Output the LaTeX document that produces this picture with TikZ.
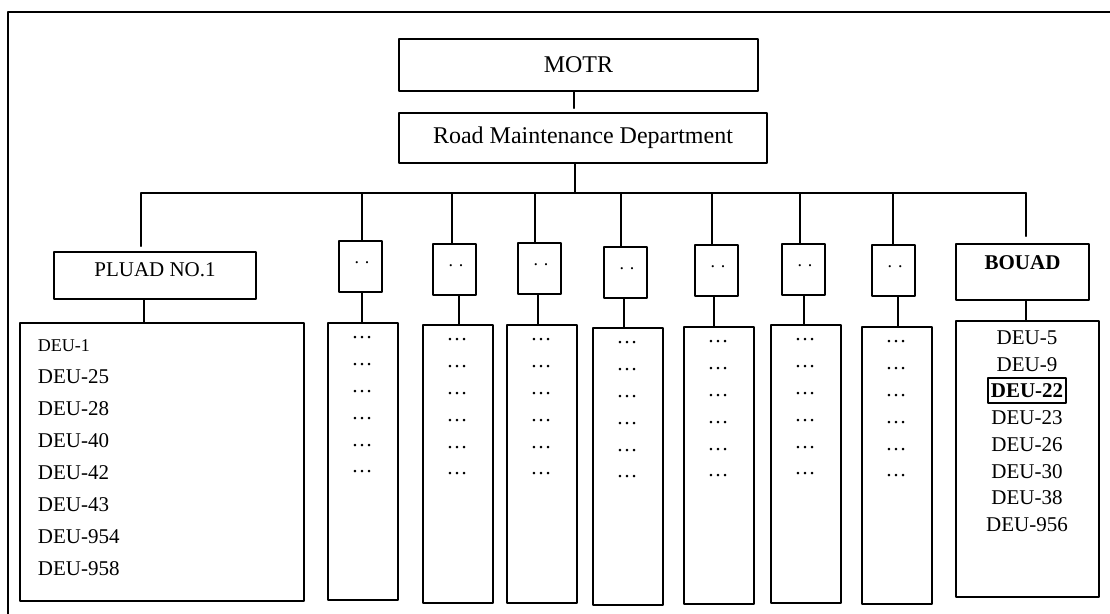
\documentclass[tikz,border=0pt]{standalone}
\usepackage{fontspec}
\setmainfont{Liberation Serif}
\begin{document}
\begin{tikzpicture}[x=0.5pt,y=-0.5pt,line cap=round,line join=round,
		box/.style={draw,line width=0.8pt,inner sep=0pt},
		wire/.style={line width=0.8pt},
		big/.style={font=\fontsize{12}{14}\selectfont},
		txt/.style={inner sep=0pt,font=\fontsize{10.5}{12}\selectfont},
		dotty/.style={inner sep=0pt,font=\fontsize{9}{10}\selectfont}]
		\useasboundingbox (0,0) rectangle (1110,614);
		\draw[line width=0.85pt] (1110,12) -| (8,614);
		\node[box,big,minimum width=179.5pt,minimum height=26pt] (motr) at (578.5,65) {MOTR};
		\node[box,big,minimum width=184pt,minimum height=25pt] (rmd) at (583,138) {Road Maintenance Department};
		\coordinate (m) at (574,0);
		\coordinate (r) at (575,193);
		\coordinate (busL) at (141,193);
		\coordinate (busR) at (1026,193);
		\draw[wire,shorten >=2pt] (motr.south -| m) -- (rmd.north -| m);
		\draw[wire] (rmd.south -| r) -- (r);
		\draw[wire] (busL) -- (busR);
		\node[box,txt,minimum width=101pt,minimum height=23.5pt,text depth=5.5pt] (pluad) at (155,275.5) {PLUAD NO.1};
		\node[box,minimum width=142pt,minimum height=139pt] (plist) at (162,462) {};
		\coordinate (pl) at (144,0);
		\draw[wire,shorten >=2.5pt] (busL) -- (busL |- pluad.north);
		\draw[wire] (pluad.south -| pl) -- (plist.north -| pl);
		\node[txt,anchor=west,font=\fontsize{9}{11}\selectfont] (p0) at (37.5,346) {DEU-1};
		\foreach \t [count=\k] in {DEU-25,DEU-28,DEU-40,DEU-42,DEU-43,DEU-954,DEU-958}
			\node[txt,anchor=west] (p\k) at (37.5,345+32*\k) {\t};
		\foreach \bx/\by/\dx/\lx/\cl/\ct/\cb [count=\i] in {338/240/362/362/327/322/599,432/243/452/459/422/324/602,517/242/535/538/506/324/602,603/246/621/624/592/327/604,694/244/712/714/683/326/603,781/243/800/804/770/324/602,871/244/893/898/861/326/603}{
			\node[box,anchor=north west,minimum width=21.5pt,minimum height=25.5pt] (b\i) at (\bx,\by) {};
			\node[dotty,anchor=base] (bd\i) at (\bx+24,\by+24) {. .};
			\node[box,anchor=north west,minimum width=35pt,minimum height={0.5pt*(\cb-\ct)}] (c\i) at (\cl,\ct) {};
			\foreach \k in {0,...,5}
				\node[txt,anchor=base] (c\i-\k) at (\cl+35,\ct+17+26.8*\k) {…};
			\coordinate (d\i) at (\dx,193);
			\coordinate (l\i) at (\lx,0);
			\draw[wire] (d\i) -- (d\i |- b\i.north);
			\draw[wire] (b\i.south -| l\i) -- (c\i.north -| l\i);
		}
		\node[box,txt,minimum width=66.5pt,minimum height=28pt,text depth=9pt,font=\fontsize{10.5}{12}\selectfont\bfseries] (bouad) at (1022.5,272) {BOUAD};
		\node[box,minimum width=71.5pt,minimum height=138pt] (blist) at (1027.5,459) {};
		\draw[wire,shorten >=3.5pt] (busR) -- (busR |- bouad.north);
		\draw[wire] (bouad.south -| busR) -- (blist.north -| busR);
		\foreach \t/\y [count=\k] in {DEU-5/338,DEU-9/365,DEU-23/418,DEU-26/445,DEU-30/472,DEU-38/498,DEU-956/525}
			\node[txt] (q\k) at (1027,\y) {\t};
		\node[txt,draw,line width=0.8pt,inner xsep=1.5pt,minimum height=12.5pt,font=\fontsize{10.5}{12}\selectfont\bfseries] (q22) at (1027,390.5) {DEU-22};
	\end{tikzpicture}
\end{document}
